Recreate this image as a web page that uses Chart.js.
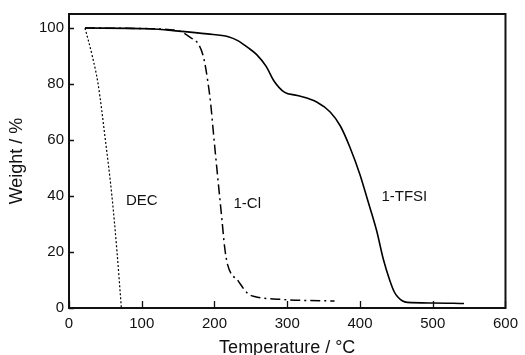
<!DOCTYPE html>
<html>
<head>
<meta charset="utf-8">
<script src="https://cdn.jsdelivr.net/npm/chart.js@4/dist/chart.umd.min.js"></script>
<style>
  html, body { margin: 0; padding: 0; background: #fff; }
  #wrap { width: 525px; height: 355px; }
</style>
</head>
<body>
<div id="wrap"><canvas id="chart" width="525" height="355"></canvas></div>
<script>
'use strict'

// TGA curves (temperature in °C, weight in %)
let decTemps = [22, 32, 40, 50, 59, 66, 72];
let decWeights = [100, 90, 80, 60, 40, 20, 0];

let clTemps = [22, 110, 151, 167, 178, 185, 191, 195, 198, 201, 205, 210, 214, 218, 233, 246, 255, 296, 365];
let clWeights = [100, 99.75, 98.9, 96.6, 94.2, 89.5, 80.6, 72.4, 64, 55.8, 45.2, 32.2, 21.6, 15.5, 9.5, 5.1, 4.1, 3, 2.5];

let tfsiTemps = [22, 110, 151, 190, 219, 232, 246, 258, 271, 282, 296, 314, 341, 359, 373, 386, 400, 411, 423, 432, 441, 447, 452, 458, 465, 500, 543];
let tfsiWeights = [100, 99.75, 98.9, 97.9, 96.9, 95.5, 93, 90.5, 86.3, 81, 77.1, 75.9, 73.5, 70, 65, 57.5, 47.6, 38.1, 27.5, 17.5, 9.8, 5.8, 3.9, 2.6, 2.0, 1.8, 1.6];

// curve labels, in data units
let labelNames = ['DEC', '1-Cl', '1-TFSI'];
let labelTemps = [100, 245, 461];
let labelWeights = [38.2, 37.3, 39.6];

let xTicks = [0, 100, 200, 300, 400, 500, 600];
let yTicks = [0, 20, 40, 60, 80, 100];

const FONT = "'Liberation Sans', Arial, sans-serif";

function toPoints(xs, ys) {
    let pts = [];
    for (let i = 0; i < xs.length; i++) {
        pts.push({ x: xs[i], y: ys[i] });
    }
    return pts;
}

// frame round the plot, inward ticks, and the curve names
const framePlugin = {
    id: 'frame',
    afterDraw(chart) {
        const { ctx, chartArea: a, scales } = chart;
        ctx.save();
        ctx.strokeStyle = '#111';
        ctx.lineWidth = 2;
        ctx.strokeRect(a.left, a.top, a.right - a.left, a.bottom - a.top);

        ctx.lineWidth = 1.3;
        ctx.beginPath();
        xTicks.forEach(v => {
            let px = Math.round(scales.x.getPixelForValue(v)) + 0.5;
            ctx.moveTo(px, a.bottom);
            ctx.lineTo(px, a.bottom - 7);
        });
        yTicks.forEach(v => {
            let py = Math.round(scales.y.getPixelForValue(v)) + 0.5;
            ctx.moveTo(a.left, py);
            ctx.lineTo(a.left + 5, py);
        });
        ctx.stroke();

        ctx.fillStyle = '#111';
        ctx.font = '15px ' + FONT;
        ctx.textAlign = 'center';
        ctx.textBaseline = 'middle';
        for (let i = 0; i < labelNames.length; i++) {
            ctx.fillText(labelNames[i],
                scales.x.getPixelForValue(labelTemps[i]),
                scales.y.getPixelForValue(labelWeights[i]));
        }
        ctx.restore();
    }
};

let chartObj = {
    type: 'line',
    data: {
        datasets: [{
            label: '1-TFSI',
            data: toPoints(tfsiTemps, tfsiWeights),
            borderColor: '#000',
            borderWidth: 1.6,
            pointRadius: 0,
            cubicInterpolationMode: 'monotone'
        },
        {
            label: '1-Cl',
            data: toPoints(clTemps, clWeights),
            borderColor: '#000',
            borderWidth: 1.5,
            borderDash: [10, 4, 2, 4],
            pointRadius: 0,
            cubicInterpolationMode: 'monotone'
        },
        {
            label: 'DEC',
            data: toPoints(decTemps, decWeights),
            borderColor: '#000',
            borderWidth: 1.2,
            borderDash: [2, 2],
            pointRadius: 0,
            cubicInterpolationMode: 'monotone'
        }]
    },
    options: {
        responsive: false,
        animation: false,
        layout: { padding: { left: 0, right: 14, top: 11, bottom: 0 } },
        plugins: {
            legend: { display: false },
            tooltip: { enabled: false }
        },
        scales: {
            x: {
                type: 'linear',
                min: 0,
                max: 600,
                afterFit: s => { s.height = 47; },
                grid: { display: false, drawTicks: false },
                border: { display: false },
                ticks: {
                    stepSize: 100,
                    includeBounds: false,
                    padding: 7,
                    color: '#111',
                    font: { size: 15, family: FONT },
                    maxRotation: 0
                },
                title: {
                    display: true,
                    text: 'Temperature / °C',
                    color: '#111',
                    font: { size: 18, family: FONT, lineHeight: 1 },
                    padding: { top: 0, bottom: -2 }
                }
            },
            y: {
                min: 0,
                max: 105,
                afterFit: s => { s.width = 69; },
                grid: { display: false, drawTicks: false },
                border: { display: false },
                ticks: {
                    stepSize: 20,
                    includeBounds: false,
                    padding: 5,
                    color: '#111',
                    font: { size: 15, family: FONT }
                },
                title: {
                    display: true,
                    text: 'Weight / %',
                    color: '#111',
                    font: { size: 18, family: FONT, lineHeight: 1 },
                    padding: { top: 8, bottom: 0 }
                }
            }
        }
    },
    plugins: [framePlugin]
};

new Chart(document.getElementById('chart'), chartObj);
</script>
</body>
</html>
